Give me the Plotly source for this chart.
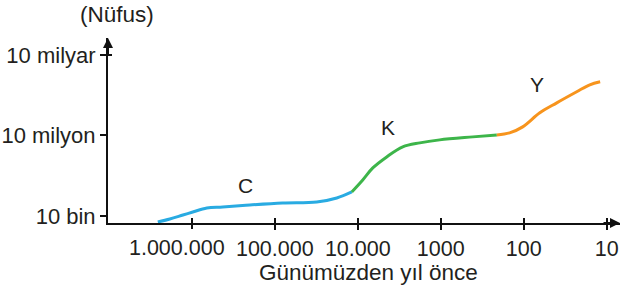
import math
import plotly.graph_objects as go

# Data (years before present, population)
blue_years = [2570000, 1840000, 1280000, 973000, 659000, 424000, 200000, 80200, 31200, 17900, 11800]
blue_pop = [5970, 7730, 10900, 14100, 19900, 21700, 25700, 30500, 33300, 47000, 78700]

green_years = [11800, 8710, 6590, 4480, 2870, 1790, 1030, 411, 211]
green_pop = [78700, 220000, 618000, 1590000, 3760000, 5300000, 6850000, 8870000, 10500000]

orange_years = [211, 148, 103, 64, 40, 23, 16, 12]
orange_pop = [10500000, 12500000, 20900000, 69700000, 164000000, 424000000, 773000000, 998000000]

x_tickvals = [1000000, 100000, 10000, 1000, 100, 10]
x_ticktext = ["1.000.000", "100.000", "10.000", "1000", "100", "10"]
y_tickvals = [10000, 10000000, 10000000000]
y_ticktext = ["10 bin", "10 milyon", "10 milyar"]

seg_labels = ["C", "K", "Y"]
seg_label_x = [224000, 4370, 69]
seg_label_y = [132000, 19000000, 780000000]

FONT = "Liberation Sans, Arial, sans-serif"
TXT = "#231F20"
AX = "#111111"

fig = go.Figure()
for xs, ys, col in [(blue_years, blue_pop, "#29ABE2"),
                    (green_years, green_pop, "#3DB54A"),
                    (orange_years, orange_pop, "#F7941D")]:
    fig.add_trace(go.Scatter(x=xs, y=ys, mode="lines",
                             line=dict(color=col, width=3, shape="spline", smoothing=1.0),
                             showlegend=False, hoverinfo="skip"))

# invisible traces on overlay axes so their ticks / labels are drawn
for xa, ya in [("x2", "y"), ("x3", "y"), ("x", "y2")]:
    fig.add_trace(go.Scatter(x=[1000], y=[1e6], xaxis=xa, yaxis=ya,
                             mode="markers", marker=dict(opacity=0), showlegend=False,
                             hoverinfo="skip"))

for t, x, y in zip(seg_labels, seg_label_x, seg_label_y):
    fig.add_annotation(x=math.log10(x), y=math.log10(y), xref="x", yref="y", text=t,
                       showarrow=False, font=dict(family=FONT, size=21, color=TXT))

xrange_ = [7.01, 0.84]
yrange_ = [3.74, 10.63]
tickfont_x = dict(family=FONT, size=21.5, color=TXT)
fig.update_layout(
    width=628, height=289,
    margin=dict(l=108, r=8, t=38, b=66),
    paper_bgcolor="white", plot_bgcolor="white",
    font=dict(family=FONT, size=21, color=TXT),
    xaxis=dict(type="log", range=xrange_, tickvals=x_tickvals[1:], ticktext=x_ticktext[1:],
               showline=True, linecolor=AX, linewidth=2, showgrid=False, zeroline=False,
               ticks="outside", ticklen=5, tickwidth=2, tickcolor=AX, automargin=False,
               tickangle=0, tickfont=tickfont_x),
    # full set of ticks crossing the axis (inside part)
    xaxis2=dict(type="log", range=xrange_, tickvals=x_tickvals, overlaying="x",
                side="bottom", showticklabels=False, showline=False, showgrid=False,
                zeroline=False, ticks="inside", ticklen=5, tickwidth=2, tickcolor=AX,
                automargin=False),
    # first tick (outside part) with its label shifted left as in the original
    xaxis3=dict(type="log", range=xrange_, tickvals=x_tickvals[:1], ticktext=x_ticktext[:1],
                overlaying="x", side="bottom", showline=False, showgrid=False,
                zeroline=False, ticks="outside", ticklen=5, tickwidth=2, tickcolor=AX,
                automargin=False, tickangle=0, tickfont=tickfont_x, ticklabelshift=15),
    yaxis=dict(type="log", range=yrange_, tickvals=y_tickvals, ticktext=y_ticktext,
               showline=True, linecolor=AX, linewidth=2, showgrid=False, zeroline=False,
               ticks="outside", ticklen=6, tickwidth=2, tickcolor=AX, automargin=False,
               tickfont=dict(family=FONT, size=22, color=TXT)),
    yaxis2=dict(type="log", range=yrange_, tickvals=[10000000000], overlaying="y",
                side="left", showticklabels=False, showline=False, showgrid=False,
                zeroline=False, ticks="inside", ticklen=4, tickwidth=2, tickcolor=AX,
                automargin=False),
)

# Axis titles as annotations
fig.add_annotation(x=(368 - 108) / 512, y=(223 - 272) / 185, xref="paper", yref="paper",
                   text="Günümüzden yıl önce", showarrow=False, xanchor="center", yanchor="middle",
                   font=dict(family=FONT, size=22.5, color=TXT))
fig.add_annotation(x=(117 - 108) / 512, y=(223 - 15) / 185, xref="paper", yref="paper",
                   text="(Nüfus)", showarrow=False, xanchor="center", yanchor="middle",
                   font=dict(family=FONT, size=22.5, color=TXT))

# Axis arrows
fig.add_annotation(x=0, y=1, xref="paper", yref="paper", ax=0, ay=18, axref="pixel", ayref="pixel",
                   showarrow=True, arrowhead=2, arrowsize=1, arrowwidth=2, arrowcolor=AX, text="")
fig.add_annotation(x=1, y=0, xref="paper", yref="paper", ax=-18, ay=0, axref="pixel", ayref="pixel",
                   showarrow=True, arrowhead=2, arrowsize=1, arrowwidth=2, arrowcolor=AX, text="")

fig.write_html("out.html", config={"displayModeBar": False},
               post_script="document.body.style.margin='0px';")
